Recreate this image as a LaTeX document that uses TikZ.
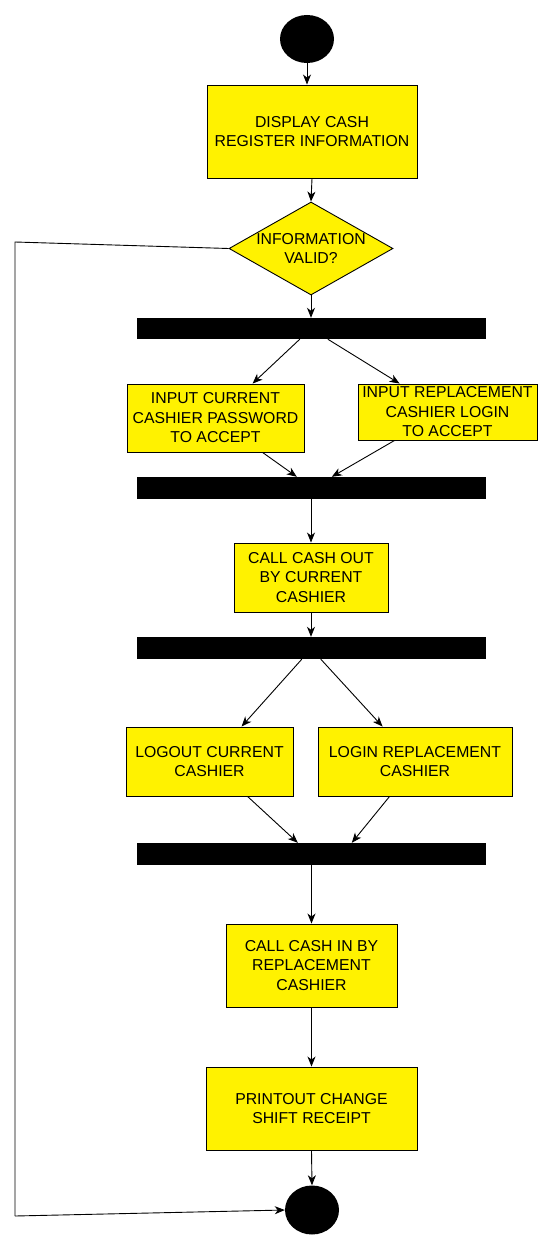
\documentclass[tikz,border=0pt]{standalone}
\usepackage{fontspec}
\setmainfont{Liberation Sans}
\usetikzlibrary{shapes.geometric,arrows.meta}
\begin{document}
\begin{tikzpicture}[x=1pt,y=-1pt,
  every node/.style={font=\fontsize{15.8}{19.5}\selectfont},
  act/.style={draw=black,fill=yellow,line width=0.9pt,align=center,inner sep=0pt},
  bar/.style={fill=black,draw=none,minimum width=349pt,inner sep=0pt},
  dot/.style={ellipse,fill=black,draw=none,minimum width=54pt,minimum height=48pt,inner sep=0pt},
  flow/.style={line width=0.9pt,-{Stealth[length=10pt,width=8pt,inset=3pt]}},
  loopline/.style={line width=0.9pt}]
\useasboundingbox (0,0) rectangle (553,1249);
\fill[white] (0,0) rectangle (553,1249);

\node[dot] (start) at (307,39) {};
\node[act,minimum width=210pt,minimum height=93pt] (b1) at (312,131.5) {DISPLAY CASH\\REGISTER INFORMATION};
\node[diamond,draw=black,fill=yellow,line width=0.9pt,minimum width=164pt,minimum height=93pt,inner sep=0pt] (d) at (311,248.5) {};
\node[align=center,inner sep=0pt] (dtext) at (d.center) {INFORMATION\\VALID?};
\node[bar,minimum height=21pt] (bar1) at (311.5,328.5) {};
\node[act,minimum width=177pt,minimum height=68pt] (b2) at (215.5,418) {INPUT CURRENT\\CASHIER PASSWORD\\TO ACCEPT};
\node[act,minimum width=179pt,minimum height=56pt] (b3) at (447.5,412) {INPUT REPLACEMENT\\CASHIER LOGIN\\TO ACCEPT};
\node[bar,minimum height=22pt] (bar2) at (311.5,488) {};
\node[act,minimum width=154pt,minimum height=69pt] (b4) at (311,577.5) {CALL CASH OUT\\BY CURRENT\\CASHIER};
\node[bar,minimum height=22pt] (bar3) at (311.5,648) {};
\node[act,minimum width=167pt,minimum height=69pt] (b5) at (209.5,761.5) {LOGOUT CURRENT\\CASHIER};
\node[act,minimum width=194pt,minimum height=69pt] (b6) at (415,761.5) {LOGIN REPLACEMENT\\CASHIER};
\node[bar,minimum height=22pt] (bar4) at (311.5,854) {};
\node[act,minimum width=171pt,minimum height=83pt] (b7) at (311.5,965.5) {CALL CASH IN BY\\REPLACEMENT\\CASHIER};
\node[act,minimum width=211pt,minimum height=83pt] (b8) at (311.5,1108.5) {PRINTOUT CHANGE\\SHIFT RECEIPT};
\node[dot,minimum height=49pt] (end) at (312,1210) {};

\coordinate (lt) at (15,242);
\coordinate (lb) at (15,1216);

\draw[flow] (start.south) -- (start.south |- b1.north);
\draw[flow] (b1.south) -- (d.north);
\draw[flow] (d.south) -- (d.south |- bar1.north);
\draw[flow] ([xshift=163pt]bar1.south west) -- ([xshift=126pt]b2.north west);
\draw[flow] ([xshift=191pt]bar1.south west) -- ([xshift=42pt]b3.north west);
\draw[flow] ([xshift=136pt]b2.south west) -- ([xshift=160pt]bar2.north west);
\draw[flow] ([xshift=37pt]b3.south west) -- ([xshift=195pt]bar2.north west);
\draw[flow] (b4.north |- bar2.south) -- (b4.north);
\draw[flow] (b4.south) -- (b4.south |- bar3.north);
\draw[flow] ([xshift=165pt]bar3.south west) -- ([xshift=116pt]b5.north west);
\draw[flow] ([xshift=184pt]bar3.south west) -- ([xshift=65pt]b6.north west);
\draw[flow] ([xshift=122pt]b5.south west) -- ([xshift=161pt]bar4.north west);
\draw[flow] ([xshift=72pt]b6.south west) -- ([xshift=215pt]bar4.north west);
\draw[flow] (b7.north |- bar4.south) -- (b7.north);
\draw[flow] (b7.south) -- (b8.north);
\draw[flow] (b8.south) -- (end.north);
\draw[loopline] (d.west) -- (lt) -- (lb);
\draw[flow] (lb) -- (end.west);
\end{tikzpicture}
\end{document}
